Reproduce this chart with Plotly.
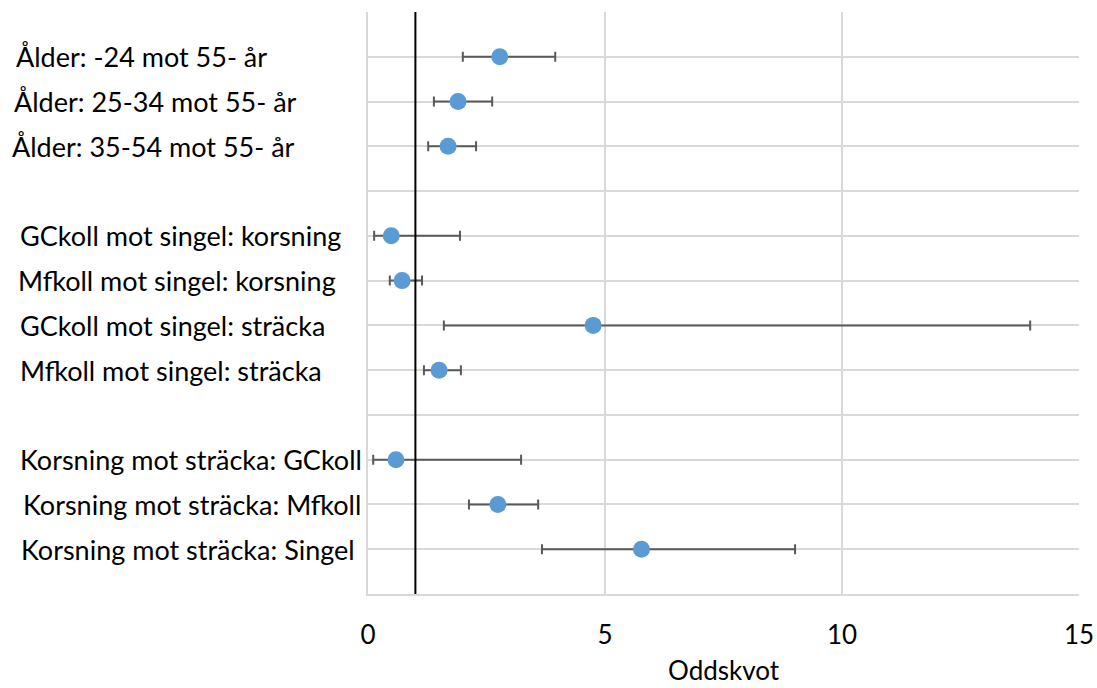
import plotly.graph_objects as go

labels = [
    "Ålder: -24 mot 55- år",
    "Ålder: 25-34 mot 55- år",
    "Ålder: 35-54 mot 55- år",
    "GCkoll mot singel: korsning",
    "Mfkoll mot singel: korsning",
    "GCkoll mot singel: sträcka",
    "Mfkoll mot singel: sträcka",
    "Korsning mot sträcka: GCkoll",
    "Korsning mot sträcka: Mfkoll",
    "Korsning mot sträcka: Singel",
]
row_pos = [12, 11, 10, 8, 7, 6, 5, 3, 2, 1]
odds = [2.78, 1.90, 1.69, 0.49, 0.72, 4.75, 1.50, 0.59, 2.74, 5.77]
lower = [2.00, 1.39, 1.27, 0.13, 0.46, 1.60, 1.18, 0.11, 2.13, 3.67]
upper = [3.95, 2.62, 2.28, 1.94, 1.14, 13.97, 1.96, 3.23, 3.59, 9.01]
label_x_px = [14, 12, 10, 18, 16, 18, 18, 18, 21, 19]
x_title = "Oddskvot"

FONT = "Lato"
FS = 27
W, H = 1097, 688
ml, mr, mt, mb = 368, 18, 12, 94

fig = go.Figure()
fig.add_trace(go.Scatter(
    x=odds, y=row_pos, mode="markers",
    marker=dict(color="#5B9BD5", size=17),
    error_x=dict(type="data", symmetric=False,
                 array=[u - o for u, o in zip(upper, odds)],
                 arrayminus=[o - l for o, l in zip(odds, lower)],
                 color="#595959", thickness=2, width=5),
    showlegend=False,
))

fig.add_shape(type="line", xref="x", yref="paper", x0=1, x1=1, y0=0, y1=1,
              line=dict(color="black", width=2))

pw = W - ml - mr
ph = H - mt - mb
for lab, yy, px in zip(labels, row_pos, label_x_px):
    fig.add_annotation(text=lab, xref="paper", yref="y",
                       x=(px - ml) / pw, y=yy, xanchor="left", yanchor="middle",
                       showarrow=False, font=dict(family=FONT, size=FS, color="black"))

fig.add_annotation(text=x_title, xref="x", yref="paper", x=7.5,
                   y=-(670 - (H - mb)) / ph, xanchor="center", yanchor="middle",
                   showarrow=False, borderpad=0,
                   font=dict(family=FONT, size=26, color="black"))

fig.update_layout(
    width=W, height=H, margin=dict(l=ml, r=mr, t=mt, b=mb, autoexpand=False),
    plot_bgcolor="white", paper_bgcolor="white",
    font=dict(family=FONT, size=26, color="black"),
    xaxis=dict(range=[0, 15], tickvals=[0, 5, 10, 15], showgrid=True,
               gridcolor="#D9D9D9", gridwidth=2, zeroline=False,
               showline=True, linecolor="#D9D9D9", linewidth=2,
               ticks="outside", ticklen=17, tickcolor="rgba(0,0,0,0)",
               automargin=False,
               tickfont=dict(family=FONT, size=26)),
    yaxis=dict(range=[0, 13], dtick=1, tick0=0, showgrid=True,
               gridcolor="#D9D9D9", gridwidth=2, zeroline=False, automargin=False,
               showticklabels=False, showline=True, linecolor="#D9D9D9", linewidth=2),
)

fig.write_html("out.html")
